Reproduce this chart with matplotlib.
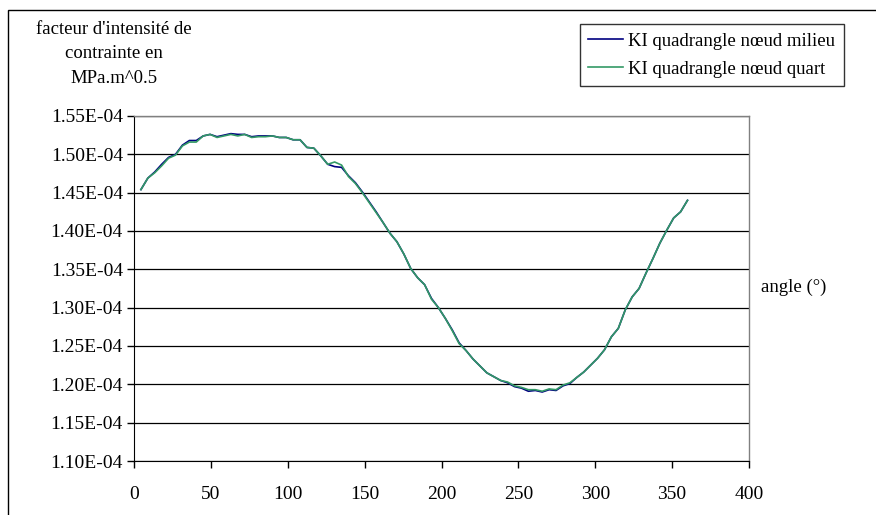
import matplotlib
matplotlib.use("Agg")
import matplotlib.pyplot as plt
from matplotlib.patches import Rectangle
from matplotlib.ticker import FuncFormatter, MultipleLocator

plt.rcParams['font.family'] = ['Liberation Serif', 'DejaVu Serif']

angles = [4.5 * k for k in range(1, 81)]

ki_quart = [
    145.4, 146.9, 147.6, 148.5, 149.5, 149.9, 151.1, 151.6, 151.6, 152.4,
    152.6, 152.2, 152.4, 152.6, 152.4, 152.6, 152.2, 152.3, 152.3, 152.4,
    152.2, 152.2, 151.9, 151.9, 150.9, 150.8, 149.8, 148.7, 149.0, 148.6,
    147.1, 146.2, 145.0, 143.7, 142.4, 141.1, 139.7, 138.6, 137.0, 135.1,
    133.9, 133.0, 131.1, 130.0, 128.6, 127.0, 125.3, 124.4, 123.3, 122.4,
    121.5, 121.0, 120.5, 120.3, 119.8, 119.6, 119.3, 119.3, 119.1, 119.4,
    119.3, 119.9, 120.2, 120.9, 121.6, 122.5, 123.4, 124.5, 126.2, 127.3,
    129.7, 131.4, 132.5, 134.5, 136.4, 138.4, 140.1, 141.7, 142.5, 144.0,
]
ki_milieu = [
    145.4, 146.9, 147.7, 148.7, 149.6, 150.0, 151.2, 151.8, 151.8, 152.4,
    152.6, 152.3, 152.5, 152.7, 152.6, 152.6, 152.3, 152.4, 152.4, 152.4,
    152.2, 152.2, 151.9, 151.9, 150.9, 150.8, 149.8, 148.7, 148.4, 148.3,
    147.2, 146.3, 145.1, 143.8, 142.5, 141.1, 139.7, 138.6, 137.0, 135.1,
    133.9, 133.0, 131.2, 130.0, 128.6, 127.1, 125.4, 124.4, 123.3, 122.4,
    121.5, 121.0, 120.5, 120.2, 119.7, 119.5, 119.1, 119.2, 119.0, 119.3,
    119.2, 119.8, 120.1, 120.9, 121.6, 122.5, 123.4, 124.5, 126.2, 127.3,
    129.7, 131.4, 132.5, 134.5, 136.4, 138.4, 140.1, 141.7, 142.5, 144.0,
]

W, H = 876, 515
fig = plt.figure(figsize=(W / 100, H / 100), dpi=100)

# outer chart frame
fig.patches.append(Rectangle((8 / W, -0.1), 1.2, 1 - 10 / H + 0.1,
                             transform=fig.transFigure, fill=False,
                             edgecolor='black', linewidth=1.0))

ax = fig.add_axes([134 / W, 1 - 461 / H, (749 - 134) / W, (461 - 116) / H])

ax.plot(angles, [v * 1e-6 for v in ki_milieu], color='#000080', lw=1.2,
        label='KI quadrangle nœud milieu')
ax.plot(angles, [v * 1e-6 for v in ki_quart], color='#339966', lw=1.2,
        label='KI quadrangle nœud quart')

ax.set_xlim(0, 400)
ax.set_ylim(1.10e-4, 1.55e-4)
ax.xaxis.set_major_locator(MultipleLocator(50))
ax.yaxis.set_major_locator(MultipleLocator(0.05e-4))
ax.yaxis.set_major_formatter(FuncFormatter(lambda v, p: f"{v:.2E}"))
ax.grid(axis='y', color='black', lw=0.9)
ax.set_axisbelow(True)

for s in ['top', 'right']:
    ax.spines[s].set_color('#808080')
    ax.spines[s].set_linewidth(1.0)
ax.spines['left'].set_color('black')
ax.spines['bottom'].set_color('black')

ax.tick_params(axis='both', direction='out', length=5, width=1, labelsize=14, colors='black')
ax.tick_params(axis='x', pad=13)
ax.tick_params(axis='y', pad=3)

fig.text(114 / W, 1 - 54 / H, "facteur d'intensité de\ncontrainte en\nMPa.m^0.5",
         ha='center', va='center', fontsize=13.5, linespacing=1.6)
fig.text(794 / W, 1 - 287 / H, "angle (°)", ha='center', va='center', fontsize=13.5)

leg = ax.legend(loc='upper left', bbox_to_anchor=(580 / W, 1 - 24 / H),
                bbox_transform=fig.transFigure, fontsize=13.5, frameon=True,
                fancybox=False, edgecolor='black', borderpad=0.45,
                handlelength=1.85, handletextpad=0.28, labelspacing=0.6,
                borderaxespad=0)
leg.get_frame().set_linewidth(1.0)

fig.savefig('out.png', dpi=100)
